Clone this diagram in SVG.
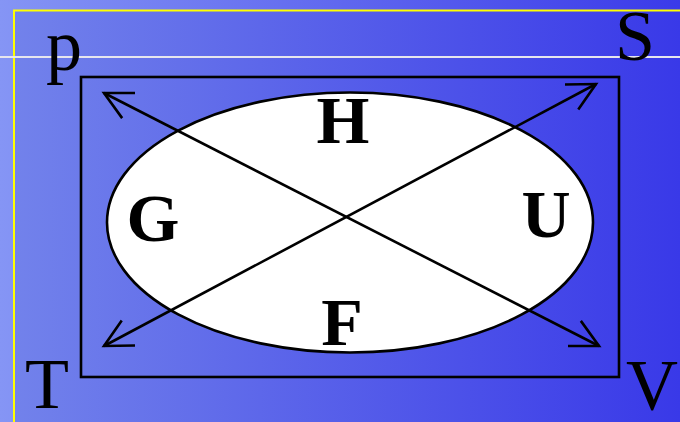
<svg xmlns="http://www.w3.org/2000/svg" width="680" height="422" viewBox="0 0 680 422">
  <defs>
    <linearGradient id="bgOuter" x1="0" y1="0" x2="1" y2="0">
      <stop offset="0" stop-color="#8595f5"/>
      <stop offset="1" stop-color="#3a3ae9"/>
    </linearGradient>
    <linearGradient id="bgInner" x1="14" y1="0" x2="680" y2="0" gradientUnits="userSpaceOnUse">
      <stop offset="0" stop-color="#7282eb"/>
      <stop offset="1" stop-color="#3939e8"/>
    </linearGradient>
    <marker id="arr" markerUnits="userSpaceOnUse" markerWidth="40" markerHeight="40" refX="0" refY="0" viewBox="-35 -20 40 40" orient="auto-start-reverse" overflow="visible">
      <path d="M -27.6 -14.1 L 0 0 L -27.6 14.1" fill="none" stroke="#000" stroke-width="2.6"/>
    </marker>
    <style>
      .outer { font-family: "Liberation Serif", "Times New Roman", serif; font-size: 72px; fill: #000; text-anchor: middle; }
      .inner { font-family: "Liberation Serif", "Times New Roman", serif; font-size: 68px; font-weight: bold; fill: #000; text-anchor: middle; }
      .conn { stroke: #000; stroke-width: 2.6; fill: none; }
    </style>
  </defs>

  <g id="background">
    <rect x="0" y="0" width="680" height="422" fill="url(#bgOuter)"/>
    <rect x="14" y="10.5" width="680" height="420" fill="url(#bgInner)" stroke="#ffff00" stroke-width="2"/>
    <line x1="0" y1="57" x2="680" y2="57" stroke="#e6e6ee" stroke-width="1.8"/>
  </g>

  <g id="frame">
    <rect x="81" y="77" width="538" height="300" fill="none" stroke="#000" stroke-width="2.6"/>
  </g>

  <g id="ellipse">
    <ellipse cx="350" cy="222.5" rx="243" ry="130" fill="#ffffff" stroke="#000" stroke-width="2.6"/>
  </g>

  <g id="connectors">
    <line class="conn" x1="104" y1="93" x2="599" y2="346" marker-start="url(#arr)" marker-end="url(#arr)"/>
    <line class="conn" x1="104" y1="346" x2="596" y2="84" marker-start="url(#arr)" marker-end="url(#arr)"/>
  </g>

  <g id="node-H"><text class="inner" x="343" y="143">H</text></g>
  <g id="node-G"><text class="inner" x="153" y="241">G</text></g>
  <g id="node-U"><text class="inner" x="546" y="237">U</text></g>
  <g id="node-F"><text class="inner" x="342" y="345">F</text></g>

  <g id="label-p"><text class="outer" x="64" y="70">p</text></g>
  <g id="label-S"><text class="outer" x="635" y="60">S</text></g>
  <g id="label-T"><text class="outer" x="47" y="408">T</text></g>
  <g id="label-V"><text class="outer" x="652" y="409">V</text></g>
</svg>
